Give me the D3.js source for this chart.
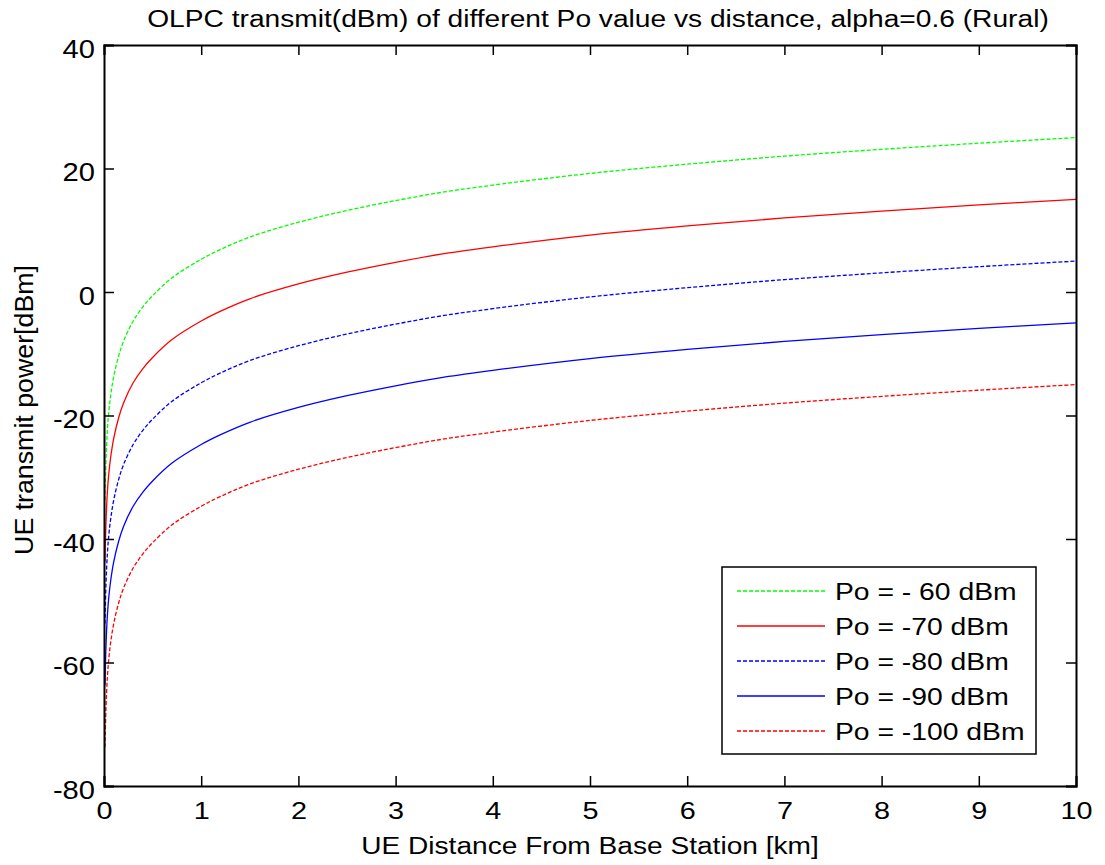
<!DOCTYPE html>
<html>
<head>
<meta charset="utf-8">
<script src="https://cdn.jsdelivr.net/npm/d3@7"></script>
<style>
  html, body { margin: 0; padding: 0; background: #fff; }
  svg text { font-family: "Liberation Sans", Arial, sans-serif; fill: #000; }
</style>
</head>
<body>
<svg id="chart" width="1105" height="865"></svg>
<script>
// Distance from the base station (km)
const distance = [0.01, 0.02, 0.035, 0.05, 0.07, 0.1, 0.15, 0.2, 0.3, 0.4, 0.5, 0.7,
                  1, 1.2, 1.5, 2, 2.5, 3, 3.5, 4, 5, 6, 7, 8, 9, 10];

// UE transmit power (dBm) for each nominal Po
const po60  = [-33.7, -27.5, -22.3, -19.3, -16.6, -13.7, -10.4, -8.0, -4.7, -2.4, -0.6, 2.3,
               5.3, 6.9, 8.9, 11.3, 13.2, 14.8, 16.2, 17.3, 19.2, 20.7, 22.0, 23.1, 24.1, 25.0];
const po70  = [-43.7, -37.5, -32.3, -29.3, -26.6, -23.7, -20.4, -18.0, -14.7, -12.4, -10.6, -7.7,
               -4.7, -3.1, -1.1, 1.3, 3.2, 4.8, 6.2, 7.3, 9.2, 10.7, 12.0, 13.1, 14.1, 15.0];
const po80  = [-53.7, -47.5, -42.3, -39.3, -36.6, -33.7, -30.4, -28.0, -24.7, -22.4, -20.6, -17.7,
               -14.7, -13.1, -11.1, -8.7, -6.8, -5.2, -3.8, -2.7, -0.8, 0.7, 2.0, 3.1, 4.1, 5.0];
const po90  = [-63.7, -57.5, -52.3, -49.3, -46.6, -43.7, -40.4, -38.0, -34.7, -32.4, -30.6, -27.7,
               -24.7, -23.1, -21.1, -18.7, -16.8, -15.2, -13.8, -12.7, -10.8, -9.3, -8.0, -6.9, -5.9, -5.0];
const po100 = [-73.7, -67.5, -62.3, -59.3, -56.6, -53.7, -50.4, -48.0, -44.7, -42.4, -40.6, -37.7,
               -34.7, -33.1, -31.1, -28.7, -26.8, -25.2, -23.8, -22.7, -20.8, -19.3, -18.0, -16.9, -15.9, -15.0];

const seriesNames = ["Po = - 60 dBm", "Po = -70 dBm", "Po = -80 dBm", "Po = -90 dBm", "Po = -100 dBm"];
const seriesValues = [po60, po70, po80, po90, po100];
const seriesColors = ["#00ff00", "#ff0000", "#0000ff", "#0000ff", "#ff0000"];
const seriesDashed = [true, false, true, false, true];

const xTicks = [0, 1, 2, 3, 4, 5, 6, 7, 8, 9, 10];
const yTicks = [-80, -60, -40, -20, 0, 20, 40];

const titleText = "OLPC transmit(dBm) of different Po value vs distance, alpha=0.6 (Rural)";
const xLabelText = "UE Distance From Base Station [km]";
const yLabelText = "UE transmit power[dBm]";

// Axes box
const boxLeft = 104, boxRight = 1076, boxTop = 45, boxBottom = 786;
const svg = d3.select("#chart");

const x = d3.scaleLinear().domain([0, 10]).range([boxLeft, boxRight]);
const y = d3.scaleLinear().domain([-80, 40]).range([boxBottom, boxTop]);

// The figure's lettering is set wide: widen each string along its baseline
function widen(sel, k) {
  sel.each(function () {
    const w = this.getComputedTextLength();
    d3.select(this).attr("textLength", w * k).attr("lengthAdjust", "spacingAndGlyphs");
  });
}

// Curves
const line = d3.line()
  .x(d => x(d[0]))
  .y(d => y(d[1]))
  .curve(d3.curveCatmullRom.alpha(0.5));

const curves = svg.append("g");
seriesValues.forEach((vals, i) => {
  curves.append("path")
    .datum(distance.map((d, k) => [d, vals[k]]))
    .attr("d", line)
    .attr("fill", "none")
    .attr("stroke", seriesColors[i])
    .attr("stroke-width", 1.3)
    .attr("stroke-dasharray", seriesDashed[i] ? "4,2" : null);
});

// Axes with inward ticks on all four sides
const tickLen = 10;
const plainNum = d => String(d);

const axBottom = svg.append("g").attr("transform", `translate(0,${boxBottom})`)
  .call(d3.axisBottom(x).tickValues(xTicks).tickSize(-tickLen).tickPadding(16).tickFormat(plainNum));
const axTop = svg.append("g").attr("transform", `translate(0,${boxTop})`)
  .call(d3.axisTop(x).tickValues(xTicks).tickSize(-tickLen).tickFormat(""));
const axLeft = svg.append("g").attr("transform", `translate(${boxLeft},0)`)
  .call(d3.axisLeft(y).tickValues(yTicks).tickSize(-tickLen).tickPadding(9).tickFormat(plainNum));
const axRight = svg.append("g").attr("transform", `translate(${boxRight},0)`)
  .call(d3.axisRight(y).tickValues(yTicks).tickSize(-tickLen).tickFormat(""));

[axBottom, axTop, axLeft, axRight].forEach(g => {
  g.select(".domain").attr("stroke", "#000").attr("stroke-width", 2);
  g.selectAll(".tick line").attr("stroke", "#000").attr("stroke-width", 1.5);
  g.selectAll("text")
    .attr("font-family", "Liberation Sans, Arial, sans-serif").attr("fill", "#000");
});
axBottom.selectAll("text").attr("font-size", 24).attr("dy", "0.71em");
axLeft.selectAll("text").attr("font-size", 26).attr("dy", 12);
widen(axBottom.selectAll(".tick text"), 1.2);
widen(axLeft.selectAll(".tick text"), 1.12);

// Title and axis labels
const title = svg.append("text")
  .attr("x", 598).attr("y", 27)
  .attr("text-anchor", "middle").attr("font-size", 23)
  .text(titleText);
widen(title, 1.224);

const xLabel = svg.append("text")
  .attr("x", 590).attr("y", 854)
  .attr("text-anchor", "middle").attr("font-size", 23)
  .text(xLabelText);
widen(xLabel, 1.222);

const yLabel = svg.append("text")
  .attr("transform", `translate(33,410) rotate(-90)`)
  .attr("text-anchor", "middle").attr("font-size", 25)
  .text(yLabelText);
widen(yLabel, 1.07);

// Legend
const lg = svg.append("g");
lg.append("rect")
  .attr("x", 722).attr("y", 567).attr("width", 314).attr("height", 187)
  .attr("fill", "#fff").attr("stroke", "#000").attr("stroke-width", 1.5);

seriesNames.forEach((name, i) => {
  const ry = 591 + i * 35;
  lg.append("line")
    .attr("x1", 737).attr("x2", 825).attr("y1", ry).attr("y2", ry)
    .attr("stroke", seriesColors[i]).attr("stroke-width", 1.3)
    .attr("stroke-dasharray", seriesDashed[i] ? "4,2" : null);
  const t = lg.append("text")
    .attr("x", 835).attr("y", ry + 8.5)
    .attr("font-size", 23)
    .text(name);
  widen(t, 1.23);
});
</script>
</body>
</html>
